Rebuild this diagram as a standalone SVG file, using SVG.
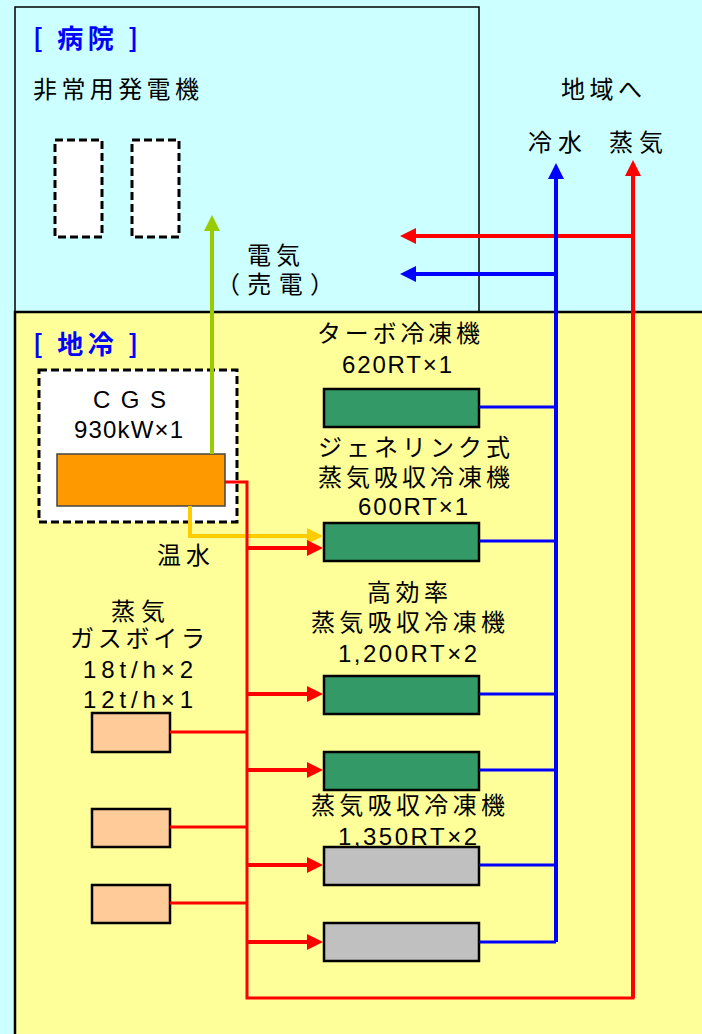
<svg xmlns="http://www.w3.org/2000/svg" width="702" height="1034" viewBox="0 0 702 1034">
<defs>
<style>
text{font-family:"Noto Sans CJK JP","Liberation Sans",sans-serif;font-size:24px;fill:#000}
.num{font-family:"Liberation Sans","Noto Sans CJK JP",sans-serif;font-size:24px}
.ttl{fill:#0000FF;font-weight:bold;font-size:26px}
.dash{fill:#fff;stroke:#000;stroke-width:3;stroke-dasharray:8 4}
.chg{fill:#339966;stroke:#000;stroke-width:2.5}
.chy{fill:#C0C0C0;stroke:#000;stroke-width:2.5}
.boi{fill:#FFCC99;stroke:#000;stroke-width:2.5}
.red{fill:none;stroke:#FF0000;stroke-width:3}
.redA{fill:none;stroke:#FF0000;stroke-width:4;marker-end:url(#aR)}
.blu{fill:none;stroke:#0000FF;stroke-width:3}
.bluA{fill:none;stroke:#0000FF;stroke-width:4;marker-end:url(#aB)}
</style>
<marker id="aR" markerUnits="userSpaceOnUse" viewBox="0 0 16 16" markerWidth="16" markerHeight="16" refX="6" refY="8" orient="auto"><path d="M0,0L16,8L0,16z" fill="#FF0000"/></marker>
<marker id="aB" markerUnits="userSpaceOnUse" viewBox="0 0 16 16" markerWidth="16" markerHeight="16" refX="6" refY="8" orient="auto"><path d="M0,0L16,8L0,16z" fill="#0000FF"/></marker>
<marker id="aG" markerUnits="userSpaceOnUse" viewBox="0 0 16 16" markerWidth="16" markerHeight="16" refX="6" refY="8" orient="auto"><path d="M0,0L16,8L0,16z" fill="#99CC00"/></marker>
<marker id="aY" markerUnits="userSpaceOnUse" viewBox="0 0 16 16" markerWidth="16" markerHeight="16" refX="6" refY="8" orient="auto"><path d="M0,0L16,8L0,16z" fill="#FFCC00"/></marker>
</defs>
<rect x="0" y="0" width="702" height="1034" fill="#CCFFFF"/>
<g id="hospital">
<rect x="15" y="7" width="464" height="305" fill="#CCFFFF" stroke="#000" stroke-width="1.5"/>
<text class="ttl" x="33" y="48" textLength="105" lengthAdjust="spacing">[ 病院 ]</text>
<text x="33" y="98" textLength="166" lengthAdjust="spacing">非常用発電機</text>
</g>
<g id="plant">
<rect x="15" y="312" width="700" height="730" fill="#FFFF99" stroke="#000" stroke-width="2.5"/>
<text class="ttl" x="33" y="354" textLength="105" lengthAdjust="spacing">[ 地冷 ]</text>
</g>
<g id="gen1"><rect class="dash" x="55" y="140" width="47" height="97"/></g>
<g id="gen2"><rect class="dash" x="132" y="140" width="47" height="97"/></g>
<g id="labels-top">
<text x="247" y="264" textLength="53" lengthAdjust="spacing">電気</text>
<text x="216" y="293" textLength="118" lengthAdjust="spacing">（売電）</text>
<text x="561" y="98" textLength="81" lengthAdjust="spacing">地域へ</text>
<text x="528" y="151" textLength="54" lengthAdjust="spacing">冷水</text>
<text x="609" y="151" textLength="54" lengthAdjust="spacing">蒸気</text>
</g>
<g id="cgs">
<rect class="dash" x="39" y="370" width="198" height="152"/>
<text class="num" x="93" y="408" textLength="73" lengthAdjust="spacing">C G S</text>
<text class="num" x="74" y="438" textLength="109" lengthAdjust="spacing">930kW×1</text>
<rect x="57" y="454" width="168" height="52" fill="#FF9900" stroke="#444" stroke-width="1.5"/>
</g>
<g id="chiller1">
<text x="317" y="342" textLength="163" lengthAdjust="spacing">ターボ冷凍機</text>
<text class="num" x="342" y="373" textLength="110" lengthAdjust="spacing">620RT×1</text>
<rect class="chg" x="324" y="389" width="155" height="38"/>
</g>
<g id="chiller2">
<text x="318" y="456" textLength="192" lengthAdjust="spacing">ジェネリンク式</text>
<text x="318" y="486" textLength="192" lengthAdjust="spacing">蒸気吸収冷凍機</text>
<text class="num" x="358" y="515" textLength="110" lengthAdjust="spacing">600RT×1</text>
<rect class="chg" x="324" y="523" width="155" height="38"/>
</g>
<g id="chiller3">
<text x="367" y="601" textLength="81" lengthAdjust="spacing">高効率</text>
<text x="311" y="631" textLength="194" lengthAdjust="spacing">蒸気吸収冷凍機</text>
<text class="num" x="338" y="662" textLength="139" lengthAdjust="spacing">1,200RT×2</text>
<rect class="chg" x="324" y="676" width="155" height="38"/>
</g>
<g id="chiller4"><rect class="chg" x="324" y="752" width="155" height="38"/></g>
<g id="chiller5">
<text x="311" y="814" textLength="194" lengthAdjust="spacing">蒸気吸収冷凍機</text>
<text class="num" x="338" y="845" textLength="139" lengthAdjust="spacing">1,350RT×2</text>
<rect class="chy" x="324" y="847" width="155" height="38"/>
</g>
<g id="chiller6"><rect class="chy" x="324" y="923" width="155" height="38"/></g>
<g id="boilers">
<text x="111" y="620" textLength="54" lengthAdjust="spacing">蒸気</text>
<text x="70" y="647" textLength="135" lengthAdjust="spacing">ガスボイラ</text>
<text class="num" x="83" y="678" textLength="110" lengthAdjust="spacing">18t/h×2</text>
<text class="num" x="83" y="708" textLength="110" lengthAdjust="spacing">12t/h×1</text>
</g>
<g id="boiler1"><rect class="boi" x="92" y="713" width="78" height="39"/></g>
<g id="boiler2"><rect class="boi" x="92" y="809" width="78" height="38"/></g>
<g id="boiler3"><rect class="boi" x="92" y="885" width="78" height="38"/></g>
<g id="hotwater-label"><text x="157" y="564" textLength="53" lengthAdjust="spacing">温水</text></g>
<g id="connectors">
<path d="M212,454V225" fill="none" stroke="#99CC00" stroke-width="4" marker-end="url(#aG)"/>
<path d="M190,506V536H313" fill="none" stroke="#FFCC00" stroke-width="4" marker-end="url(#aY)"/>
<path class="red" d="M225,482H247V998H633V170"/>
<path d="M633,998V170" fill="none" stroke="#FF0000" stroke-width="4" marker-end="url(#aR)"/>
<path class="redA" d="M633,236H410"/>
<path class="bluA" d="M556,274H410"/>
<path class="bluA" d="M556,942V173"/>
<path class="redA" d="M247,548H313"/>
<path class="redA" d="M247,694H313"/>
<path class="redA" d="M247,770H313"/>
<path class="redA" d="M247,865H313"/>
<path class="redA" d="M247,942H313"/>
<path class="red" d="M170,732H247M170,827H247M170,903H247"/>
<path class="blu" d="M479,407H556M479,541H556M479,694H556M479,770H556M479,865H556M479,942H556"/>
</g>
</svg>
